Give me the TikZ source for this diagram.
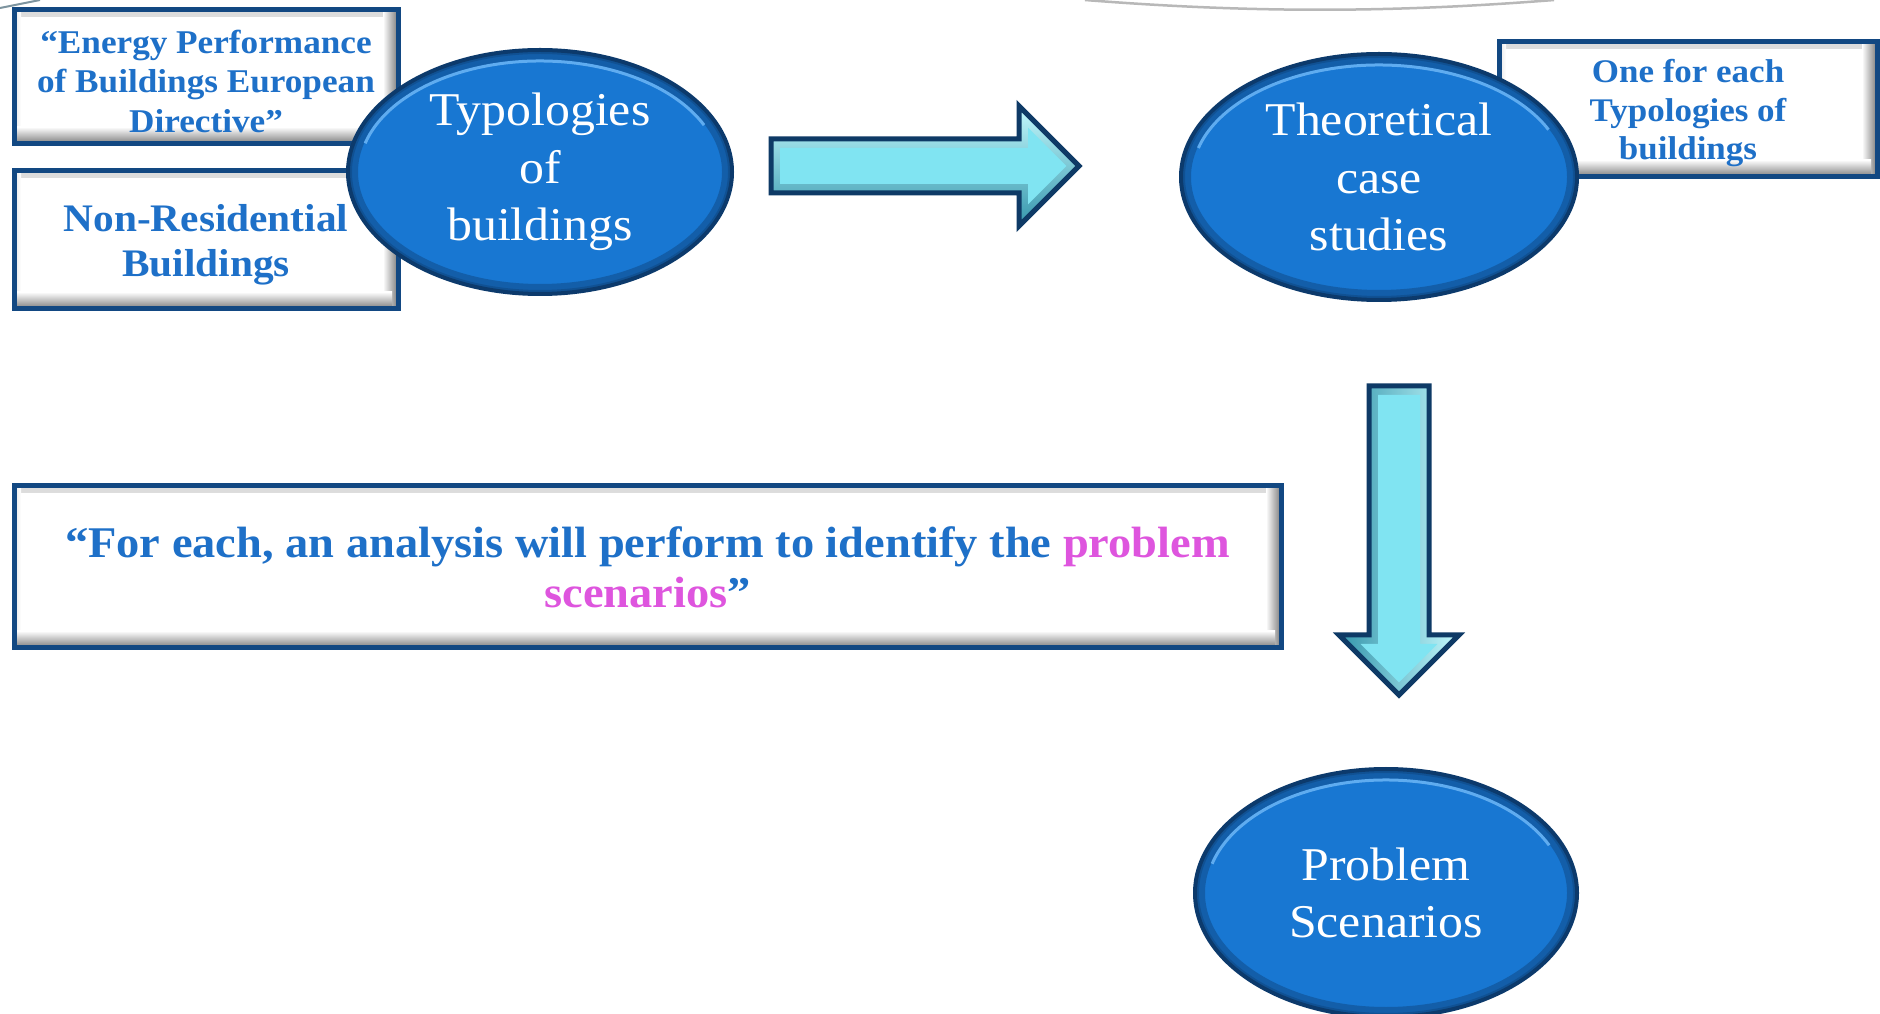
\documentclass[tikz,border=0pt]{standalone}
\usepackage{fontspec}
\setmainfont{Liberation Serif}[FakeStretch=1.06]
\usetikzlibrary{calc,shapes.geometric}

\definecolor{ellfill}{RGB}{24,119,210}
\definecolor{ellrim}{RGB}{12,58,108}
\definecolor{ellhi}{RGB}{95,172,240}
\definecolor{boxedge}{RGB}{18,72,130}
\definecolor{boxtext}{RGB}{30,112,200}
\definecolor{pinktext}{RGB}{222,85,222}
\definecolor{arrfill}{RGB}{128,228,242}
\definecolor{arrlight}{RGB}{196,249,253}
\definecolor{arrdark}{RGB}{52,150,172}
\definecolor{arredge}{RGB}{14,58,102}

\tikzset{
  bevelbox/.style={rectangle, draw=boxedge, line width=5pt, fill=white,
    inner sep=0pt,
    path picture={
      \fill[top color=black!14, bottom color=white]
        (path picture bounding box.north west) rectangle
        ([yshift=-7pt]path picture bounding box.north east);
      \fill[left color=black!10, right color=white]
        (path picture bounding box.north west) rectangle
        ([xshift=7pt]path picture bounding box.south west);
      \fill[left color=white, right color=black!52]
        ([xshift=-15pt]path picture bounding box.north east) rectangle
        (path picture bounding box.south east);
      \fill[top color=white, bottom color=black!52]
        ([yshift=17pt]path picture bounding box.south west) rectangle
        ([xshift=-6pt]path picture bounding box.south east);
    }},
  boxlabel/.style={inner sep=0pt, align=center, text=boxtext},
  bubble/.style 2 args={ellipse, minimum width={2*#1}, minimum height={2*#2},
    inner sep=0pt, fill=ellfill, draw=ellrim, line width=4pt,
    text=white, align=center, font=\fontsize{47}{57.5}\selectfont,
    path picture={
      \draw[ellrim, line width=20pt, opacity=0.40]
        (path picture bounding box.center) ellipse [x radius=#1, y radius=#2];
      \draw[ellrim, line width=8pt, opacity=0.35]
        (path picture bounding box.center) ellipse [x radius=#1, y radius=#2];
      \draw[ellhi, line width=3pt]
        ($(path picture bounding box.center)+({cos(25)*(#1-11)},{sin(25)*(#2-11)})$)
        arc [start angle=25, end angle=165, x radius={#1-11}, y radius={#2-11}];
    }},
  arrowedge/.style={draw=arredge, line width=5pt, line join=miter},
}

\begin{document}
\begin{tikzpicture}[x=1pt,y=1pt]
\useasboundingbox (0,0) rectangle (1880,1013);
\fill[white] (0,0) rectangle (1880,1013);

% remnants of shapes cut off by the top edge
\draw[black!28, line width=2.5pt] (1085,1013) .. controls (1250,1000) and (1390,1000) .. (1554,1013);
\draw[black!25!cyan!30!gray, line width=2pt] (0,1005) -- (40,1013);

% sources on the left
\node[bevelbox, minimum width=384, minimum height=134] (epbd) at (206,936) {};
\node[boxlabel, font=\bfseries\fontsize{33.2}{39.5}\selectfont] (epbdtext)
  at ([yshift=-4]epbd.center) {“Energy Performance\\of Buildings European\\Directive”};
\node[bevelbox, minimum width=384, minimum height=138] (nonres) at (206,773) {};
\node[boxlabel, font=\bfseries\fontsize{39}{44.5}\selectfont] (nonrestext)
  at ([yshift=-5]nonres.center) {Non-Residential\\Buildings};
\node[bubble={192}{122}] (typo) at (540,841) {Typologies\\of\\buildings};

% horizontal block arrow
\fill[top color=arrlight, bottom color=arrdark]
  (771,820) -- (1019,820) -- (1019,787) -- (1079,847) -- (1019,907) -- (1019,874) -- (771,874) -- cycle;
\fill[arrfill]
  (780,829) -- (1028,829) -- (1028,808.7) -- (1066.3,847) -- (1028,885.3) -- (1028,865) -- (780,865) -- cycle;
\draw[arrowedge]
  (771,820) -- (1019,820) -- (1019,787) -- (1079,847) -- (1019,907) -- (1019,874) -- (771,874) -- cycle;

% case studies
\node[bevelbox, minimum width=378, minimum height=135] (each) at (1688,903.5) {};
\node[boxlabel, font=\bfseries\fontsize{33}{38.5}\selectfont] (eachtext)
  at ([yshift=-4]each.center) {One for each\\Typologies of\\buildings};
\node[bubble={198}{123}] (theory) at (1379,836) {Theoretical\\case\\studies};

% vertical block arrow
\fill[left color=arrdark, right color=arrlight]
  (1369,627) -- (1429,627) -- (1429,378) -- (1459,378) -- (1399,318) -- (1339,378) -- (1369,378) -- cycle;
\fill[arrfill]
  (1378,618) -- (1420,618) -- (1420,369) -- (1437.3,369) -- (1399,330.7) -- (1360.7,369) -- (1378,369) -- cycle;
\draw[arrowedge]
  (1369,627) -- (1429,627) -- (1429,378) -- (1459,378) -- (1399,318) -- (1339,378) -- (1369,378) -- cycle;

% analysis statement
\node[bevelbox, minimum width=1267, minimum height=162] (analysis) at (647.5,446) {};
\node[boxlabel, font=\bfseries\fontsize{43.8}{50}\selectfont] (analysistext)
  at (analysis.center)
  {“For each, an analysis will perform to identify the \textcolor{pinktext}{problem}\\\textcolor{pinktext}{scenarios}”};

% outcome
\node[bubble={191}{124}] (problem) at (1386,120) {Problem\\Scenarios};
\end{tikzpicture}
\end{document}
